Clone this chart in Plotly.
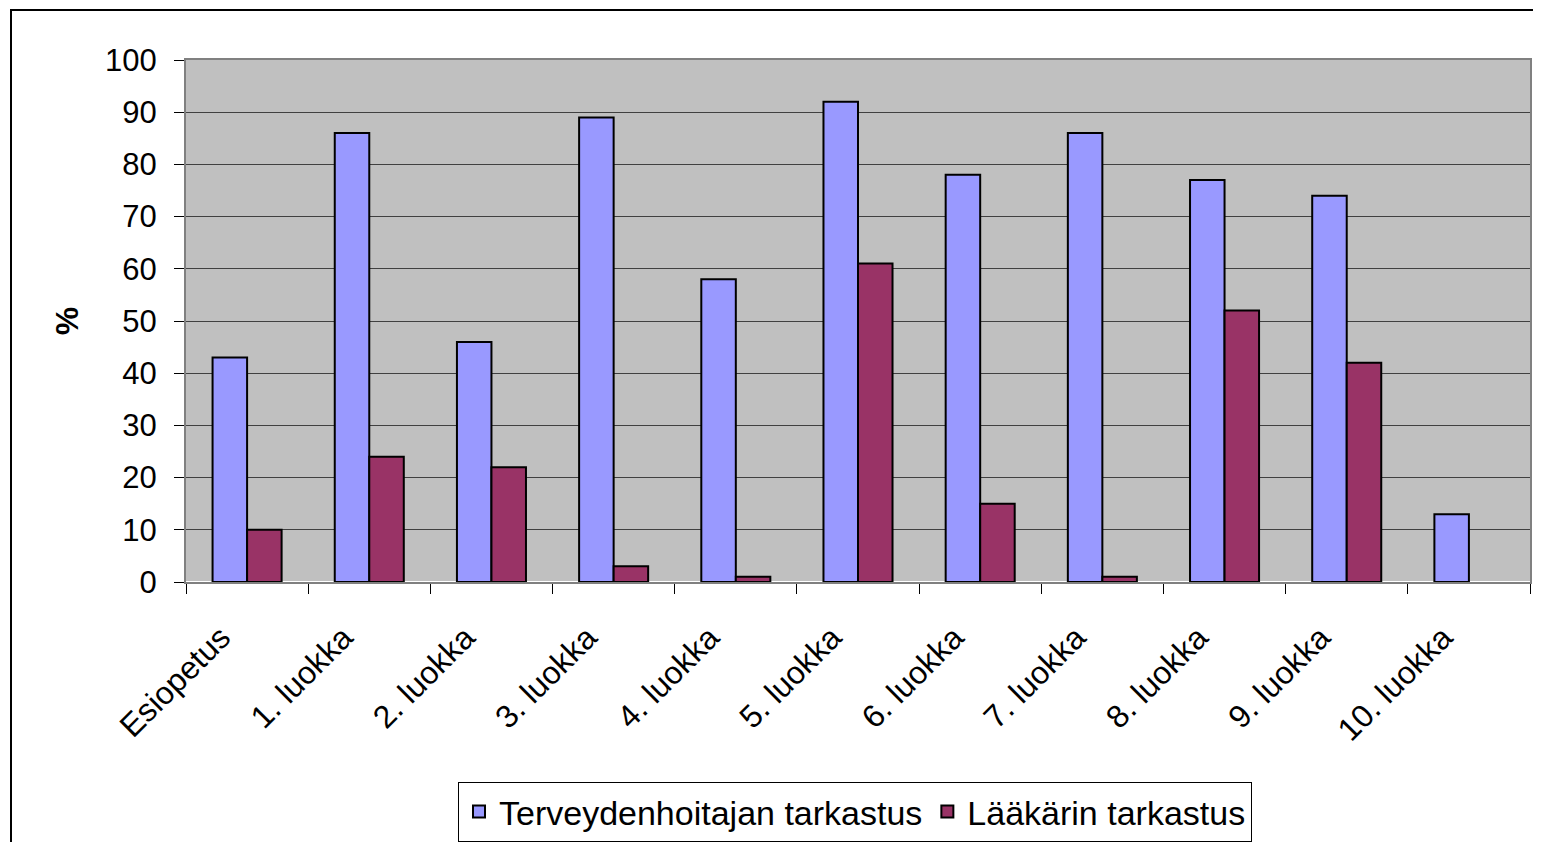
import plotly.graph_objects as go

categories = ["Esiopetus", "1. luokka", "2. luokka", "3. luokka", "4. luokka", "5. luokka",
              "6. luokka", "7. luokka", "8. luokka", "9. luokka", "10. luokka"]
terveydenhoitaja = [43, 86, 46, 89, 58, 92, 78, 86, 77, 74, 13]
laakari = [10, 24, 22, 3, 1, 61, 15, 1, 52, 42, None]
y_ticks = [0, 10, 20, 30, 40, 50, 60, 70, 80, 90, 100]

OFF = 8  # page body margin
W, H = 1541 - OFF, 842 - OFF
L, T = 186 - OFF, 60 - OFF
R = W - (1530 - OFF)
B = H - (582 - OFF)
pw = W - L - R
ph = H - T - B


def px_x(x):
    return (x - OFF - L) / pw


def px_y(y):
    return (H - B - (y - OFF)) / ph


fig = go.Figure()
fig.add_trace(go.Bar(x=categories, y=terveydenhoitaja, name="Terveydenhoitajan tarkastus",
                     marker=dict(color="#9999FF", line=dict(color="black", width=2))))
fig.add_trace(go.Bar(x=categories, y=laakari, name="Lääkärin tarkastus",
                     marker=dict(color="#993366", line=dict(color="black", width=2))))

fig.add_shape(type="rect", xref="paper", yref="paper",
              x0=px_x(11), x1=px_x(1560), y0=px_y(10), y1=px_y(860),
              line=dict(color="black", width=2), fillcolor="rgba(0,0,0,0)", layer="below")

fig.update_layout(
    width=W, height=H,
    margin=dict(l=L, r=R, t=T, b=B, pad=0, autoexpand=False),
    paper_bgcolor="white",
    plot_bgcolor="#C0C0C0",
    barmode="group",
    bargap=0.435,
    bargroupgap=0,
    font=dict(family="Liberation Sans, Arial, sans-serif", color="black", size=31),
    showlegend=True,
    legend=dict(orientation="h", xref="container", yref="container",
                x=(855 - OFF) / W, xanchor="center",
                y=(H - (782 - OFF)) / H, yanchor="top",
                bordercolor="black", borderwidth=1, bgcolor="white",
                font=dict(size=34), itemsizing="constant"),
    xaxis=dict(tickangle=-45, ticks="outside", ticklen=10, tickcolor="black",
               tickson="boundaries", showline=True, linecolor="#808080", linewidth=2,
               mirror=True, tickfont=dict(size=32),
               ticklabelstandoff=22, ticklabelshift=-26),
    yaxis=dict(range=[0, 100], tickvals=y_ticks, ticks="outside", ticklen=10, tickcolor="black",
               showgrid=True, gridcolor="#404040", gridwidth=1,
               showline=True, linecolor="#808080", linewidth=2, mirror=True,
               tickfont=dict(size=31), ticklabelstandoff=11,
               title=dict(text="<b>%</b>", font=dict(size=32), standoff=17)),
)

fig.write_html("out.html")
